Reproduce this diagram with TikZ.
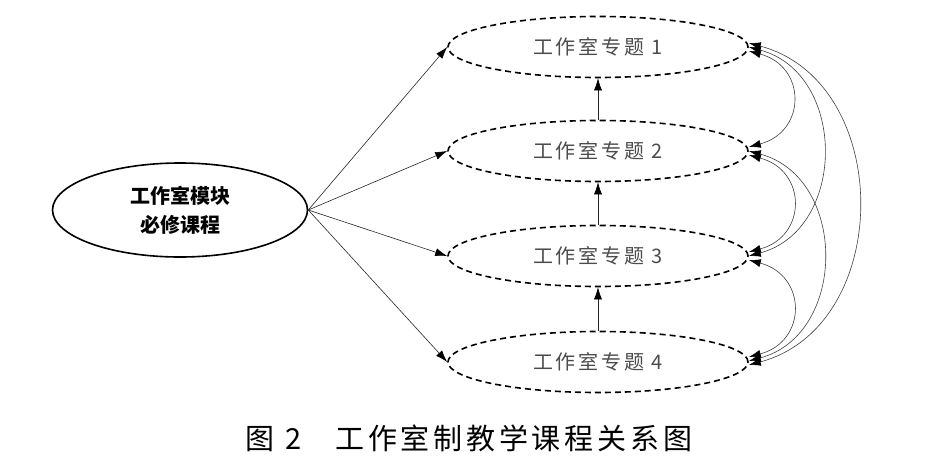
\documentclass[tikz,border=0pt]{standalone}
\usepackage{fontspec}
\setmainfont{Noto Sans CJK SC}
\usetikzlibrary{shapes.geometric,arrows.meta}

\begin{document}
\begin{tikzpicture}[x=1pt,y=1pt,
  module/.style={ellipse,draw,line width=1.6pt,minimum width=255pt,minimum height=94pt,inner sep=0pt,align=center,font=\fontsize{20}{29}\selectfont\bfseries},
  topic/.style={ellipse,draw,line width=1.6pt,dash pattern=on 6pt off 4pt,minimum width=300pt,minimum height=61pt,inner sep=0pt,text=black!70,font=\fontsize{20}{22}\selectfont\addfontfeatures{LetterSpace=14}},
  feed/.style={-{Latex[length=12pt,width=8pt,color=black]},draw=black!85,line width=0.6pt},
  link/.style={{Latex[length=12pt,width=8pt,color=black]}-{Latex[length=12pt,width=8pt,color=black]},draw=black!75,line width=0.6pt}]
\useasboundingbox (0,0) rectangle (932,-469);
\node[module] (core) at (180,-210) {工作室模块\\必修课程};
\node[topic] (t1) at (598,-47) {工作室专题 1};
\node[topic] (t2) at (598,-151) {工作室专题 2};
\node[topic] (t3) at (598,-256) {工作室专题 3};
\node[topic] (t4) at (598,-362) {工作室专题 4};
\node[font=\fontsize{29}{30}\selectfont\addfontfeatures{LetterSpace=13}] (cap) at (469,-438) {图 2\hspace{34pt}工作室制教学课程关系图};
% module to each topic
\path (core.east) edge[feed] (t1.west);
\path (core.east) edge[feed] (t2.west);
\path (core.east) edge[feed] (t3.west);
\path (core.east) edge[feed] (t4.west);
% upward chain
\path (t2.north) edge[feed] (t1.south);
\path (t3.north) edge[feed] (t2.south);
\path (t4.north) edge[feed] (t3.south);
% links on the right
\path ([yshift=-4pt]t1.east) edge[link,out=-15,in=15,looseness=1.6] ([yshift=4pt]t2.east);
\path ([yshift=0pt]t1.east) edge[link,out=-15,in=15,looseness=1.25] ([yshift=0pt]t3.east);
\path ([yshift=4pt]t1.east) edge[link,out=-15,in=15,looseness=1.2] ([yshift=-3pt]t4.east);
\path ([yshift=-4pt]t2.east) edge[link,out=-15,in=15,looseness=1.6] ([yshift=4pt]t3.east);
\path ([yshift=0pt]t2.east) edge[link,out=-15,in=15,looseness=1.25] ([yshift=1pt]t4.east);
\path ([yshift=-4pt]t3.east) edge[link,out=-15,in=15,looseness=1.6] ([yshift=5pt]t4.east);
\end{tikzpicture}
\end{document}
